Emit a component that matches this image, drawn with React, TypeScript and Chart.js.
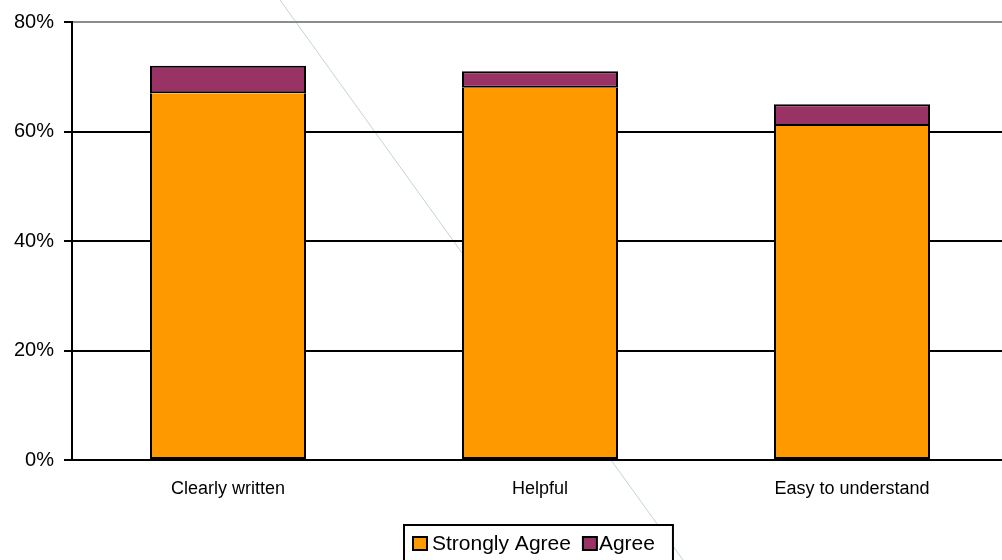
import React, { useEffect, useRef } from "react";
import { Chart, registerables } from "chart.js";

Chart.register(...registerables);

const categories = ["Clearly written", "Helpful", "Easy to understand"];
const stronglyAgree = [67, 68, 61];
const agree = [5, 3, 4];
const seriesNames = ["Strongly Agree", "Agree"];
const seriesColors = ["#FF9900", "#993366"];
const yMax = 80;
const yStep = 20;

const FONT = '"Liberation Sans", Arial, sans-serif';

// Thin decorative stroke that runs diagonally behind the plot
const diagonalLine = {
  id: "diagonalLine",
  beforeDraw(chart: any) {
    const { ctx } = chart;
    ctx.save();
    ctx.strokeStyle = "#c2d5d1";
    ctx.lineWidth = 1;
    ctx.beginPath();
    ctx.moveTo(280, 0);
    ctx.lineTo(683, 560);
    ctx.stroke();
    ctx.restore();
  },
};

// Bordered legend box under the category labels
const boxedLegend = {
  id: "boxedLegend",
  afterDraw(chart: any) {
    const { ctx, chartArea } = chart;
    const datasets = chart.data.datasets;
    ctx.save();
    ctx.font = `21px ${FONT}`;
    const marker = 14;
    const gaps = [5, 2];
    const itemGap = 12;
    const padL = 9;
    const padR = 18;
    const widths = datasets.map((d: any) => ctx.measureText(d.label).width);
    let total = padL + padR;
    widths.forEach((w: number, i: number) => {
      total += marker + gaps[i] + w + (i < widths.length - 1 ? itemGap : 0);
    });
    const cx = (chartArea.left + chartArea.right) / 2 - 1.5;
    const left = Math.round(cx - total / 2);
    const top = 525;
    const height = 40;
    ctx.fillStyle = "#ffffff";
    ctx.fillRect(left, top, total, height);
    ctx.strokeStyle = "#000000";
    ctx.lineWidth = 2;
    ctx.strokeRect(left, top, total, height);
    const midY = 543;
    let x = left + padL;
    datasets.forEach((d: any, i: number) => {
      ctx.fillStyle = d.backgroundColor;
      ctx.fillRect(x, midY - 6, marker, 13);
      ctx.strokeStyle = "#000000";
      ctx.lineWidth = 2;
      ctx.strokeRect(x, midY - 6, marker, 13);
      x += marker + gaps[i];
      ctx.fillStyle = "#000000";
      ctx.textBaseline = "middle";
      ctx.textAlign = "left";
      ctx.fillText(d.label, x, midY + 1);
      x += widths[i] + itemGap;
    });
    ctx.restore();
  },
};

export default function App() {
  const canvasRef = useRef<HTMLCanvasElement | null>(null);

  useEffect(() => {
    document.body.style.margin = "0";
    const canvas = canvasRef.current;
    if (!canvas) return;
    const chart = new Chart(canvas, {
      type: "bar",
      data: {
        labels: categories,
        datasets: [
          {
            label: seriesNames[0],
            data: stronglyAgree,
            backgroundColor: seriesColors[0],
            borderColor: "#000000",
            borderWidth: 2,
            borderSkipped: "top",
          },
          {
            label: seriesNames[1],
            data: agree,
            backgroundColor: seriesColors[1],
            borderColor: "#000000",
            borderWidth: 2,
            borderSkipped: false,
          },
        ],
      },
      options: {
        responsive: false,
        animation: false,
        devicePixelRatio: 1,
        layout: { padding: { top: 22, right: 0, bottom: 0, left: 0 } },
        datasets: {
          bar: { barPercentage: 0.5, categoryPercentage: 1 },
        },
        plugins: {
          legend: { display: false },
          tooltip: { enabled: false },
        },
        scales: {
          x: {
            stacked: true,
            grid: { display: false },
            border: { color: "#000000", width: 2 },
            ticks: {
              color: "#000000",
              padding: 10,
              maxRotation: 0,
              font: { family: FONT, size: 18 },
            },
            afterFit: (s: any) => {
              s.height = 100;
            },
          },
          y: {
            stacked: true,
            min: 0,
            max: yMax,
            grid: {
              color: (ctx: any) =>
                ctx.tick && ctx.tick.value === yMax ? "#8c8c8c" : "#000000",
              lineWidth: 2,
              tickLength: 8,
              tickColor: "#000000",
            },
            border: { color: "#000000", width: 2 },
            ticks: {
              stepSize: yStep,
              color: "#000000",
              padding: 10,
              font: { family: FONT, size: 20 },
              callback: (v: any) => `${v}%`,
            },
            afterFit: (s: any) => {
              s.width = 72;
            },
          },
        },
      },
      plugins: [diagonalLine, boxedLegend],
    });
    return () => chart.destroy();
  }, []);

  return (
    <div style={{ width: 1002, height: 560, overflow: "hidden", position: "relative", background: "#fff" }}>
      <canvas ref={canvasRef} width={1008} height={560} style={{ display: "block" }} />
    </div>
  );
}
